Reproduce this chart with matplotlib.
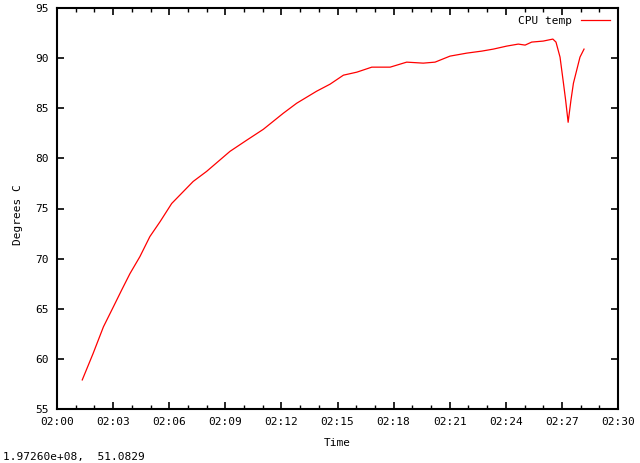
import matplotlib
matplotlib.use("Agg")
import matplotlib.pyplot as plt
import matplotlib.dates as mdates
import pandas as pd

times = ["02:01:21", "02:01:56", "02:02:29", "02:03:01", "02:03:28", "02:03:54",
         "02:04:26", "02:04:58", "02:05:31", "02:06:08", "02:07:17", "02:08:00",
         "02:09:15", "02:10:08", "02:11:02", "02:12:06", "02:12:49", "02:13:53",
         "02:14:36", "02:15:19", "02:16:02", "02:16:50", "02:17:49", "02:18:42",
         "02:19:35", "02:20:13", "02:21:01", "02:21:55", "02:22:43", "02:23:20",
         "02:24:03", "02:24:40", "02:25:02", "02:25:23", "02:26:00", "02:26:31",
         "02:26:41", "02:26:54", "02:27:05", "02:27:12", "02:27:20", "02:27:29",
         "02:27:37", "02:27:58", "02:28:11"]
temps = [57.9, 60.55, 63.2, 65.2, 66.9, 68.5,
         70.2, 72.2, 73.7, 75.5, 77.7, 78.7,
         80.7, 81.8, 82.9, 84.5, 85.5, 86.7,
         87.4, 88.3, 88.6, 89.1, 89.1, 89.6,
         89.5, 89.6, 90.2, 90.5, 90.7, 90.9,
         91.2, 91.4, 91.3, 91.6, 91.7, 91.9,
         91.6, 90.1, 87.5, 85.8, 83.6, 85.8,
         87.5, 90.1, 90.9]
series_name = "CPU temp"
y_ticks = [55, 60, 65, 70, 75, 80, 85, 90, 95]
x_start, x_end = "02:00:00", "02:30:00"
status_text = "1.97260e+08,  51.0829"

day = "2000-01-01 "
t = pd.to_datetime([day + s for s in times])
xs = pd.to_datetime(day + x_start)
xe = pd.to_datetime(day + x_end)

font = "DejaVu Sans Mono"
plt.rcParams['font.family'] = [font]
plt.rcParams['font.size'] = 8

fig = plt.figure(figsize=(6.4, 4.63), dpi=100)
ax = fig.add_axes([57/640, 1 - 409/463, (618-57)/640, (409-8)/463])

ax.plot(t, temps, color="#ff0000", lw=0.9, label=series_name)

ax.set_xlim(xs, xe)
ax.set_ylim(55, 95)
ax.set_yticks(y_ticks)
ax.xaxis.set_major_locator(mdates.MinuteLocator(byminute=range(0, 60, 3)))
ax.xaxis.set_minor_locator(mdates.MinuteLocator())
ax.xaxis.set_major_formatter(mdates.DateFormatter("%H:%M"))

ax.tick_params(axis="both", which="major", direction="in", length=5, width=1.2,
               top=True, right=True, pad=6, labelsize=8)
ax.tick_params(axis="x", which="minor", direction="in", length=3, width=1.0,
               top=True)
for sp in ax.spines.values():
    sp.set_linewidth(1.5)

ax.set_xlabel("Time", fontsize=8)
ax.set_ylabel("Degrees C", fontsize=8)
ax.xaxis.set_label_coords(0.5, (409 - 443.5) / 401)
ax.xaxis.label.set_va("center")
ax.yaxis.set_label_coords((17.7 - 57) / 561, (409 - 215) / 401)
ax.yaxis.label.set_va("center")

ax.legend(loc="upper right", frameon=False, markerfirst=False, fontsize=8,
          handlelength=2.6, borderaxespad=0.3, handletextpad=0.8)

fig.text(3/640, 1 - 457/463, status_text, fontsize=8, va="center", ha="left")

fig.savefig("out.png", dpi=100)
